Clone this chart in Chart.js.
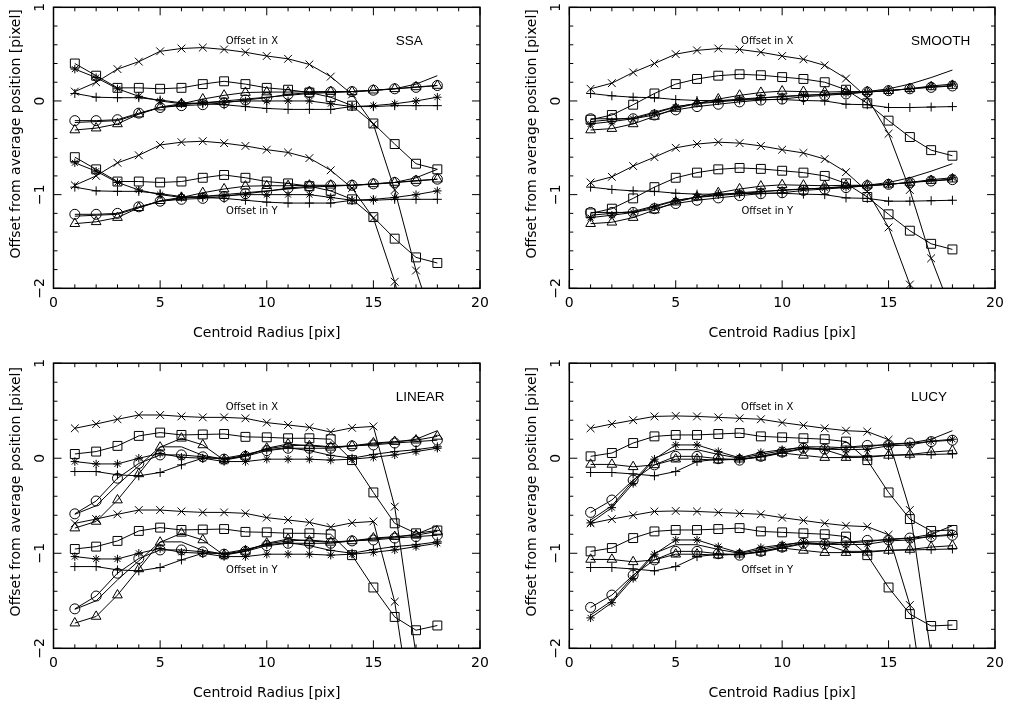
<!DOCTYPE html>
<html>
<head>
<meta charset="utf-8">
<script src="https://cdn.jsdelivr.net/npm/chart.js@4.4.1/dist/chart.umd.min.js"></script>
<style>
  body { margin: 0; background: #fff; }
  canvas { position: absolute; }
</style>
</head>
<body>
<canvas id="c1" width="505" height="354" style="left:0;top:0"></canvas>
<canvas id="c2" width="506" height="354" style="left:505px;top:0"></canvas>
<canvas id="c3" width="505" height="354" style="left:0;top:354px"></canvas>
<canvas id="c4" width="506" height="354" style="left:505px;top:354px"></canvas>
<script>
// centroid radius [pix]
const radius = [1, 2, 3, 4, 5, 6, 7, 8, 9, 10, 11, 12, 13, 14, 15, 16, 17, 18];

const xTicks = [0, 5, 10, 15, 20];
const yTicks = [1, 0, -1, -2];
const yTickLabels = ['1', '0', '\u22121', '\u22122'];
const panelNames = ['SSA', 'SMOOTH', 'LINEAR', 'LUCY'];

// ---- SSA ----
const ssaCrossX  = [0.10, 0.20, 0.34, 0.42, 0.53, 0.56, 0.57, 0.55, 0.52, 0.48, 0.45, 0.39, 0.26, 0.07, -0.25, -0.95, -1.81, -2.5];
const ssaSquareX = [0.40, 0.27, 0.14, 0.14, 0.13, 0.14, 0.18, 0.21, 0.18, 0.14, 0.12, 0.09, 0.04, -0.05, -0.24, -0.46, -0.67, -0.73];
const ssaPlusX   = [0.08, 0.04, 0.035, 0.035, 0.01, -0.02, -0.03, -0.04, -0.06, -0.08, -0.09, -0.09, -0.09, -0.06, -0.06, -0.05, -0.05, -0.05];
const ssaStarX   = [0.34, 0.25, 0.13, 0.05, 0.0, -0.03, -0.02, -0.01, 0.0, 0.0, 0.0, 0.0, -0.03, -0.06, -0.05, -0.03, 0.0, 0.04];
const ssaCircX   = [-0.21, -0.21, -0.20, -0.13, -0.07, -0.05, -0.04, -0.02, 0.01, 0.035, 0.07, 0.09, 0.095, 0.10, 0.115, 0.13, 0.145, 0.165];
const ssaTriX    = [-0.31, -0.29, -0.245, -0.14, -0.065, -0.03, 0.02, 0.06, 0.09, 0.095, 0.095, 0.10, 0.10, 0.10, 0.115, 0.13, 0.15, 0.165];
const ssaLineX   = [-0.23, -0.22, -0.21, -0.14, -0.07, -0.04, -0.02, 0.0, 0.02, 0.04, 0.06, 0.08, 0.09, 0.10, 0.11, 0.13, 0.18, 0.27];
const ssaCrossY  = [-0.90, -0.80, -0.66, -0.58, -0.47, -0.44, -0.43, -0.45, -0.48, -0.52, -0.55, -0.61, -0.74, -0.93, -1.25, -1.93, -2.8, -3.6];
const ssaSquareY = [-0.60, -0.73, -0.86, -0.86, -0.87, -0.86, -0.82, -0.79, -0.82, -0.86, -0.88, -0.91, -0.96, -1.05, -1.24, -1.47, -1.67, -1.73];
const ssaPlusY   = [-0.92, -0.96, -0.965, -0.965, -0.99, -1.02, -1.03, -1.04, -1.06, -1.08, -1.09, -1.09, -1.09, -1.06, -1.06, -1.05, -1.05, -1.05];
const ssaStarY   = [-0.66, -0.75, -0.87, -0.95, -1.0, -1.03, -1.02, -1.01, -1.0, -1.0, -1.0, -1.0, -1.03, -1.06, -1.05, -1.03, -1.0, -0.96];
const ssaCircY   = [-1.21, -1.21, -1.20, -1.13, -1.07, -1.05, -1.04, -1.02, -0.99, -0.965, -0.93, -0.91, -0.905, -0.90, -0.885, -0.87, -0.855, -0.835];
const ssaTriY    = [-1.31, -1.29, -1.245, -1.14, -1.065, -1.03, -0.98, -0.94, -0.91, -0.905, -0.905, -0.90, -0.90, -0.90, -0.885, -0.87, -0.85, -0.835];
const ssaLineY   = [-1.23, -1.22, -1.21, -1.14, -1.07, -1.04, -1.02, -1.0, -0.98, -0.96, -0.94, -0.92, -0.91, -0.90, -0.89, -0.87, -0.82, -0.73];

// ---- SMOOTH ----
const smoCrossX  = [0.13, 0.19, 0.305, 0.40, 0.50, 0.54, 0.56, 0.55, 0.52, 0.48, 0.445, 0.38, 0.24, 0.035, -0.35, -0.95, -1.68, -2.27];
const smoSquareX = [-0.20, -0.15, -0.04, 0.08, 0.18, 0.235, 0.27, 0.285, 0.275, 0.255, 0.235, 0.20, 0.12, -0.025, -0.21, -0.385, -0.525, -0.585];
const smoPlusX   = [0.08, 0.055, 0.04, 0.035, 0.015, 0.005, 0.005, 0.01, 0.015, 0.015, 0.005, 0.0, -0.035, -0.04, -0.07, -0.07, -0.065, -0.06];
const smoStarX   = [-0.245, -0.22, -0.19, -0.13, -0.065, -0.025, 0.0, 0.02, 0.035, 0.045, 0.06, 0.07, 0.08, 0.095, 0.11, 0.13, 0.16, 0.18];
const smoCircX   = [-0.19, -0.19, -0.19, -0.15, -0.095, -0.06, -0.035, -0.01, 0.01, 0.02, 0.045, 0.06, 0.075, 0.095, 0.11, 0.13, 0.145, 0.16];
const smoTriX    = [-0.31, -0.295, -0.245, -0.165, -0.08, -0.025, 0.02, 0.06, 0.09, 0.105, 0.10, 0.095, 0.10, 0.10, 0.11, 0.13, 0.15, 0.165];
const smoLineX   = [-0.22, -0.20, -0.18, -0.12, -0.06, -0.03, -0.01, 0.01, 0.03, 0.05, 0.06, 0.07, 0.09, 0.10, 0.13, 0.18, 0.25, 0.33];
const smoCrossY  = [-0.87, -0.81, -0.695, -0.60, -0.50, -0.46, -0.44, -0.45, -0.48, -0.52, -0.555, -0.62, -0.76, -0.965, -1.35, -1.96, -2.7, -3.3];
const smoSquareY = [-1.20, -1.15, -1.04, -0.92, -0.82, -0.765, -0.73, -0.715, -0.725, -0.745, -0.765, -0.80, -0.88, -1.025, -1.21, -1.385, -1.525, -1.585];
const smoPlusY   = [-0.92, -0.945, -0.96, -0.965, -0.985, -0.995, -0.995, -0.99, -0.985, -0.985, -0.995, -1.0, -1.035, -1.04, -1.07, -1.07, -1.065, -1.06];
const smoStarY   = [-1.245, -1.22, -1.19, -1.13, -1.065, -1.025, -1.0, -0.98, -0.965, -0.955, -0.94, -0.93, -0.92, -0.905, -0.89, -0.87, -0.84, -0.82];
const smoCircY   = [-1.19, -1.19, -1.19, -1.15, -1.095, -1.06, -1.035, -1.01, -0.99, -0.98, -0.955, -0.94, -0.925, -0.905, -0.89, -0.87, -0.855, -0.84];
const smoTriY    = [-1.31, -1.295, -1.245, -1.165, -1.08, -1.025, -0.98, -0.94, -0.91, -0.895, -0.90, -0.905, -0.90, -0.90, -0.89, -0.87, -0.85, -0.835];
const smoLineY   = [-1.22, -1.20, -1.18, -1.12, -1.06, -1.03, -1.01, -0.99, -0.97, -0.95, -0.94, -0.93, -0.91, -0.90, -0.87, -0.82, -0.75, -0.67];

// ---- LINEAR ----
const linCrossX  = [0.315, 0.36, 0.41, 0.455, 0.455, 0.44, 0.43, 0.43, 0.42, 0.375, 0.35, 0.325, 0.275, 0.32, 0.335, -0.51, -2.07, -3.0];
const linSquareX = [0.045, 0.07, 0.13, 0.235, 0.27, 0.245, 0.25, 0.255, 0.225, 0.22, 0.21, 0.21, 0.20, -0.02, -0.36, -0.685, -0.79, -0.76];
const linPlusX   = [-0.14, -0.14, -0.175, -0.185, -0.15, -0.07, 0.0, 0.0, 0.04, 0.09, 0.11, 0.08, 0.03, 0.0, 0.04, 0.07, 0.09, 0.12];
const linStarX   = [-0.035, -0.06, -0.06, 0.0, 0.05, 0.01, 0.0, -0.035, -0.035, -0.01, -0.01, -0.01, -0.02, -0.01, 0.01, 0.035, 0.07, 0.105];
const linCircX   = [-0.585, -0.45, -0.21, -0.055, 0.035, 0.035, 0.015, -0.01, 0.02, 0.08, 0.105, 0.105, 0.105, 0.13, 0.14, 0.16, 0.175, 0.19];
const linTriX    = [-0.735, -0.665, -0.44, -0.165, 0.115, 0.21, 0.14, -0.02, 0.02, 0.105, 0.15, 0.13, 0.115, 0.13, 0.16, 0.175, 0.19, 0.23];
const linLineX   = [-0.59, -0.50, -0.28, -0.08, 0.12, 0.12, 0.03, -0.01, 0.03, 0.10, 0.13, 0.14, 0.12, 0.13, 0.15, 0.17, 0.20, 0.29];
const linCrossY  = [-0.685, -0.64, -0.59, -0.545, -0.545, -0.56, -0.57, -0.57, -0.58, -0.625, -0.65, -0.675, -0.725, -0.68, -0.665, -1.51, -3.0, -4.0];
const linSquareY = [-0.955, -0.93, -0.87, -0.765, -0.73, -0.755, -0.75, -0.745, -0.775, -0.78, -0.79, -0.79, -0.80, -1.02, -1.36, -1.67, -1.81, -1.76];
const linPlusY   = [-1.14, -1.14, -1.175, -1.185, -1.15, -1.07, -1.0, -1.0, -0.96, -0.91, -0.89, -0.92, -0.97, -1.0, -0.96, -0.93, -0.91, -0.88];
const linStarY   = [-1.035, -1.06, -1.06, -1.0, -0.95, -0.99, -1.0, -1.035, -1.035, -1.01, -1.01, -1.01, -1.02, -1.01, -0.99, -0.965, -0.93, -0.895];
const linCircY   = [-1.585, -1.45, -1.21, -1.055, -0.965, -0.965, -0.985, -1.01, -0.98, -0.92, -0.895, -0.895, -0.895, -0.87, -0.86, -0.84, -0.825, -0.81];
const linTriY    = [-1.735, -1.665, -1.44, -1.165, -0.885, -0.79, -0.86, -1.02, -0.98, -0.895, -0.85, -0.87, -0.885, -0.87, -0.84, -0.825, -0.81, -0.77];
const linLineY   = [-1.59, -1.50, -1.28, -1.08, -0.88, -0.88, -0.97, -1.01, -0.97, -0.90, -0.87, -0.86, -0.88, -0.87, -0.85, -0.83, -0.80, -0.71];

// ---- LUCY ----
const lucCrossX  = [0.315, 0.36, 0.40, 0.44, 0.445, 0.44, 0.43, 0.42, 0.41, 0.375, 0.345, 0.315, 0.29, 0.28, 0.195, -0.545, -2.07, -3.0];
const lucSquareX = [0.02, 0.055, 0.16, 0.23, 0.245, 0.245, 0.255, 0.265, 0.23, 0.22, 0.21, 0.20, 0.175, -0.02, -0.36, -0.64, -0.765, -0.755];
const lucPlusX   = [-0.15, -0.15, -0.165, -0.185, -0.14, -0.035, -0.01, -0.01, 0.02, 0.055, 0.10, 0.09, 0.02, 0.02, 0.03, 0.035, 0.04, 0.045];
const lucStarX   = [-0.68, -0.52, -0.265, -0.01, 0.14, 0.14, 0.07, 0.005, 0.06, 0.09, 0.115, 0.095, 0.09, 0.095, 0.13, 0.14, 0.18, 0.20];
const lucCircX   = [-0.57, -0.44, -0.23, -0.07, 0.02, 0.02, -0.005, -0.02, 0.02, 0.065, 0.105, 0.095, 0.115, 0.135, 0.14, 0.16, 0.175, 0.19];
const lucTriX    = [-0.065, -0.065, -0.09, -0.07, -0.01, -0.01, -0.02, -0.01, 0.01, 0.055, 0.03, 0.007, 0.007, 0.01, 0.03, 0.04, 0.065, 0.08];
const lucLineX   = [-0.65, -0.50, -0.24, 0.0, 0.09, 0.09, 0.04, 0.0, 0.04, 0.08, 0.12, 0.12, 0.11, 0.12, 0.15, 0.16, 0.20, 0.29];
const lucCrossY  = [-0.685, -0.64, -0.60, -0.56, -0.555, -0.56, -0.57, -0.58, -0.59, -0.625, -0.655, -0.685, -0.71, -0.72, -0.805, -1.545, -3.07, -4.0];
const lucSquareY = [-0.98, -0.945, -0.84, -0.77, -0.755, -0.755, -0.745, -0.735, -0.77, -0.78, -0.79, -0.80, -0.825, -1.02, -1.36, -1.64, -1.765, -1.755];
const lucPlusY   = [-1.15, -1.15, -1.165, -1.185, -1.14, -1.035, -1.01, -1.01, -0.98, -0.945, -0.90, -0.91, -0.98, -0.98, -0.97, -0.965, -0.96, -0.955];
const lucStarY   = [-1.68, -1.52, -1.265, -1.01, -0.86, -0.86, -0.93, -0.995, -0.94, -0.91, -0.885, -0.905, -0.91, -0.905, -0.87, -0.86, -0.82, -0.80];
const lucCircY   = [-1.57, -1.44, -1.23, -1.07, -0.98, -0.98, -1.005, -1.02, -0.98, -0.935, -0.895, -0.905, -0.885, -0.865, -0.86, -0.84, -0.825, -0.81];
const lucTriY    = [-1.065, -1.065, -1.09, -1.07, -1.01, -1.01, -1.02, -1.01, -0.99, -0.945, -0.97, -0.993, -0.993, -0.99, -0.97, -0.96, -0.935, -0.92];
const lucLineY   = [-1.65, -1.50, -1.24, -1.0, -0.91, -0.91, -0.96, -1.0, -0.96, -0.92, -0.88, -0.88, -0.89, -0.88, -0.85, -0.84, -0.80, -0.71];

// marker styles, same order as the series in each panel
const markers = [
  { style: 'crossRot', r: 5.5 },
  { style: 'rect', r: 6.3 },
  { style: 'cross', r: 4.5 },
  { style: 'star', r: 4.2 },
  { style: 'circle', r: 5 },
  { style: 'triangle', r: 5.6 },
  { style: 'circle', r: 0 }
];

const panelSeries = [
  [ssaCrossX, ssaSquareX, ssaPlusX, ssaStarX, ssaCircX, ssaTriX, ssaLineX,
   ssaCrossY, ssaSquareY, ssaPlusY, ssaStarY, ssaCircY, ssaTriY, ssaLineY],
  [smoCrossX, smoSquareX, smoPlusX, smoStarX, smoCircX, smoTriX, smoLineX,
   smoCrossY, smoSquareY, smoPlusY, smoStarY, smoCircY, smoTriY, smoLineY],
  [linCrossX, linSquareX, linPlusX, linStarX, linCircX, linTriX, linLineX,
   linCrossY, linSquareY, linPlusY, linStarY, linCircY, linTriY, linLineY],
  [lucCrossX, lucSquareX, lucPlusX, lucStarX, lucCircX, lucTriX, lucLineX,
   lucCrossY, lucSquareY, lucPlusY, lucStarY, lucCircY, lucTriY, lucLineY]
];

const FONT = '"DejaVu Sans", "Liberation Sans", sans-serif';
const NAME_FONT = '"Liberation Sans", sans-serif';

// frame, inward ticks and all labels, placed through the chart scales
const pgFrame = {
  id: 'pgFrame',
  afterDatasetsDraw(chart, args, opts) {
    const { ctx, chartArea: a, scales: { x, y } } = chart;
    ctx.save();
    ctx.strokeStyle = '#000';
    ctx.lineWidth = 1;
    ctx.beginPath();
    for (let v = 0; v <= 20; v++) {
      const px = x.getPixelForValue(v);
      const len = v % 5 === 0 ? 8 : 4;
      ctx.moveTo(px, a.bottom); ctx.lineTo(px, a.bottom - len);
      ctx.moveTo(px, a.top); ctx.lineTo(px, a.top + len);
    }
    for (let k = -10; k <= 5; k++) {
      const py = y.getPixelForValue(k / 5);
      const len = k % 5 === 0 ? 8 : 4;
      ctx.moveTo(a.left, py); ctx.lineTo(a.left + len, py);
      ctx.moveTo(a.right, py); ctx.lineTo(a.right - len, py);
    }
    ctx.stroke();
    ctx.lineWidth = 1.5;
    ctx.strokeRect(a.left, a.top, a.right - a.left, a.bottom - a.top);

    ctx.fillStyle = '#000';
    ctx.textAlign = 'center';
    ctx.textBaseline = 'middle';
    ctx.font = '14px ' + FONT;
    xTicks.forEach(v => ctx.fillText(String(v), x.getPixelForValue(v), a.bottom + 15));
    ctx.fillText('Centroid Radius [pix]', (a.left + a.right) / 2, a.bottom + 45);

    yTicks.forEach((v, i) => {
      ctx.save();
      ctx.translate(a.left - 13, y.getPixelForValue(v));
      ctx.rotate(-Math.PI / 2);
      ctx.fillText(yTickLabels[i], 0, 0);
      ctx.restore();
    });
    ctx.save();
    ctx.translate(a.left - 37, (a.top + a.bottom) / 2 - 14);
    ctx.rotate(-Math.PI / 2);
    ctx.fillText('Offset from average position [pixel]', 0, 0);
    ctx.restore();

    ctx.font = '10px ' + FONT;
    ctx.fillText('Offset in X', x.getPixelForValue(9.3), y.getPixelForValue(opts.labelX));
    ctx.fillText('Offset in Y', x.getPixelForValue(9.3), y.getPixelForValue(-1.18));

    ctx.font = '13.5px ' + NAME_FONT;
    ctx.textAlign = 'left';
    ctx.fillText(opts.name, x.getPixelForValue(16.05), y.getPixelForValue(0.64));
    ctx.restore();
  }
};

function makePanel(id, idx, pad, labelX) {
  const datasets = panelSeries[idx].map((vals, i) => {
    const m = markers[i % 7];
    return {
      data: vals.map((v, j) => ({ x: radius[j], y: v })),
      borderColor: '#000',
      borderWidth: 1,
      tension: 0,
      fill: false,
      clip: 0,
      pointStyle: m.style,
      pointRadius: m.r,
      pointBorderWidth: 1,
      pointBorderColor: '#000',
      pointBackgroundColor: 'rgba(0,0,0,0)'
    };
  });
  new Chart(document.getElementById(id), {
    type: 'line',
    data: { datasets },
    options: {
      responsive: false,
      animation: false,
      devicePixelRatio: 1,
      layout: { padding: pad },
      scales: {
        x: { type: 'linear', min: 0, max: 20, display: false },
        y: { type: 'linear', min: -2, max: 1, display: false }
      },
      plugins: {
        legend: { display: false },
        tooltip: { enabled: false },
        pgFrame: { name: panelNames[idx], labelX }
      },
      elements: { line: { borderJoinStyle: 'miter' } }
    },
    plugins: [pgFrame]
  });
}

makePanel('c1', 0, { left: 53.5, top: 3.2, right: 25, bottom: 65.7 }, 0.64);
makePanel('c2', 1, { left: 64.3, top: 3.2, right: 16, bottom: 65.7 }, 0.64);
makePanel('c3', 2, { left: 53.5, top: 9.2, right: 25, bottom: 59.7 }, 0.533);
makePanel('c4', 3, { left: 64.3, top: 9.2, right: 16, bottom: 59.7 }, 0.533);
</script>
</body>
</html>
